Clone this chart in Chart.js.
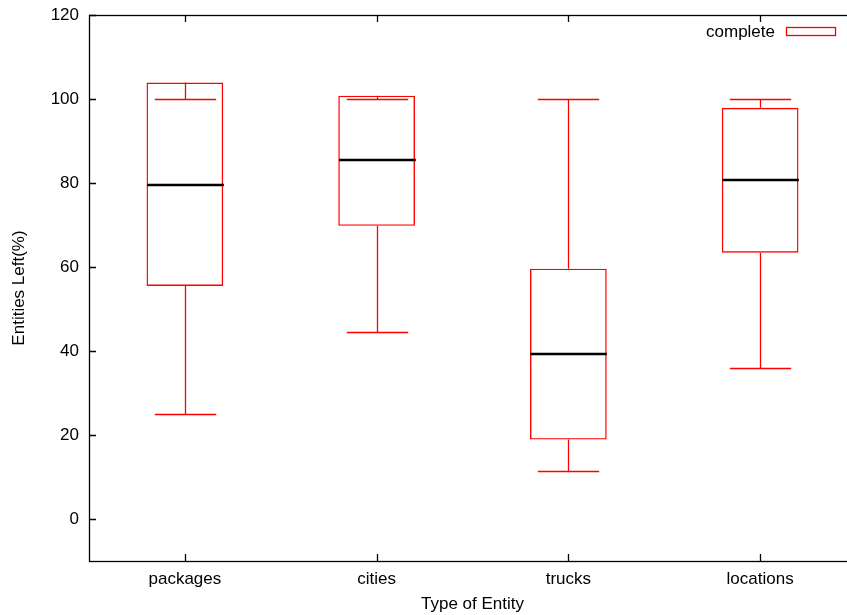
<!DOCTYPE html>
<html>
<head>
<meta charset="utf-8">
<script src="https://cdn.jsdelivr.net/npm/chart.js@4"></script>
<style>
  html, body { margin: 0; padding: 0; background: #fff; overflow: hidden; }
  #wrap { width: 860px; height: 615px; }
</style>
</head>
<body>
<div id="wrap"><canvas id="chart" width="860" height="615"></canvas></div>
<script>
// categorias e valores (box plot estilo gnuplot)
const categories = ['packages', 'cities', 'trucks', 'locations']
const whiskerLow = [25.0, 44.5, 11.5, 36.0]
const boxLow = [55.5, 69.8, 18.9, 63.4]
const median = [79.6, 85.4, 39.3, 80.6]
const boxHigh = [103.9, 100.8, 59.6, 97.9]
const whiskerHigh = [100.0, 100.0, 100.0, 100.0]
const yTicks = [0, 20, 40, 60, 80, 100, 120]

const FONT = '17px "Liberation Sans", Arial, sans-serif'
const RED = '#ff0000'

// desenha bigodes, medianas, moldura, ticks internos e legenda
const boxPlugin = {
  id: 'boxExtras',
  afterDatasetsDraw(chart) {
    const ctx = chart.ctx
    const x = chart.scales.x
    const y = chart.scales.y
    const step = x.getPixelForValue(1) - x.getPixelForValue(0)
    const capHalf = step * 0.16
    const boxHalf = step * 0.2
    ctx.save()
    categories.forEach((c, i) => {
      const cx = Math.round(x.getPixelForValue(i)) + 0.5
      ctx.strokeStyle = RED
      ctx.lineWidth = 1.3
      ctx.beginPath()
      // bigode superior
      ctx.moveTo(cx, y.getPixelForValue(boxHigh[i]))
      ctx.lineTo(cx, y.getPixelForValue(whiskerHigh[i]))
      ctx.moveTo(cx - capHalf, Math.round(y.getPixelForValue(whiskerHigh[i])) + 0.5)
      ctx.lineTo(cx + capHalf, Math.round(y.getPixelForValue(whiskerHigh[i])) + 0.5)
      // bigode inferior
      ctx.moveTo(cx, y.getPixelForValue(boxLow[i]))
      ctx.lineTo(cx, y.getPixelForValue(whiskerLow[i]))
      ctx.moveTo(cx - capHalf, Math.round(y.getPixelForValue(whiskerLow[i])) + 0.5)
      ctx.lineTo(cx + capHalf, Math.round(y.getPixelForValue(whiskerLow[i])) + 0.5)
      ctx.stroke()
      // mediana
      ctx.strokeStyle = '#000'
      ctx.lineWidth = 2.5
      ctx.beginPath()
      const my = Math.round(y.getPixelForValue(median[i]))
      ctx.moveTo(cx - boxHalf, my)
      ctx.lineTo(cx + boxHalf, my)
      ctx.stroke()
    })
    ctx.restore()
  },
  afterDraw(chart) {
    const ctx = chart.ctx
    const a = chart.chartArea
    const x = chart.scales.x
    const y = chart.scales.y
    ctx.save()
    ctx.strokeStyle = '#000'
    ctx.lineWidth = 1.3
    ctx.strokeRect(Math.round(a.left) + 0.5, Math.round(a.top) + 0.5, Math.round(a.right - a.left), Math.round(a.bottom - a.top))
    ctx.beginPath()
    yTicks.forEach(v => {
      const py = Math.round(y.getPixelForValue(v)) + 0.5
      ctx.moveTo(a.left, py)
      ctx.lineTo(a.left + 7, py)
      ctx.moveTo(a.right, py)
      ctx.lineTo(a.right - 7, py)
    })
    categories.forEach((c, i) => {
      const px = Math.round(x.getPixelForValue(i)) + 0.5
      ctx.moveTo(px, a.bottom)
      ctx.lineTo(px, a.bottom - 7)
      ctx.moveTo(px, a.top)
      ctx.lineTo(px, a.top + 7)
    })
    ctx.stroke()

    // títulos dos eixos
    ctx.fillStyle = '#000'
    ctx.font = FONT
    ctx.textAlign = 'center'
    ctx.textBaseline = 'middle'
    ctx.fillText('Type of Entity', (a.left + a.right) / 2, 604)
    ctx.save()
    ctx.translate(19, (a.top + a.bottom) / 2)
    ctx.rotate(-Math.PI / 2)
    ctx.fillText('Entities Left(%)', 0, 0)
    ctx.restore()

    // legenda
    ctx.textAlign = 'right'
    ctx.fillText('complete', 775, 32)
    ctx.strokeStyle = RED
    ctx.lineWidth = 1.3
    ctx.strokeRect(786.5, 27.5, 49, 8)
    ctx.restore()
  }
}

new Chart(document.getElementById('chart'), {
  type: 'bar',
  data: {
    labels: categories,
    datasets: [{
      label: 'complete',
      data: boxLow.map((v, i) => [v, boxHigh[i]]),
      backgroundColor: 'rgba(0,0,0,0)',
      borderColor: RED,
      borderWidth: 1.4,
      borderSkipped: false,
      barPercentage: 0.4,
      categoryPercentage: 1
    }]
  },
  options: {
    responsive: false,
    devicePixelRatio: 1,
    animation: false,
    layout: { padding: { left: 0, top: 15, right: 4, bottom: 0 } },
    plugins: {
      legend: { display: false },
      tooltip: { enabled: false }
    },
    scales: {
      x: {
        offset: true,
        grid: { display: false },
        border: { display: false },
        ticks: { color: '#000', font: { family: '"Liberation Sans", Arial, sans-serif', size: 17 }, padding: 0, maxRotation: 0 },
        afterFit(s) { s.height = 54; s.paddingLeft = 0; s.paddingRight = 0 }
      },
      y: {
        min: -10,
        max: 120,
        afterBuildTicks(s) { s.ticks = yTicks.map(v => ({ value: v })) },
        grid: { display: false },
        border: { display: false },
        ticks: { color: '#000', font: { family: '"Liberation Sans", Arial, sans-serif', size: 17 }, padding: 2 },
        afterFit(s) { s.width = 89; s.paddingTop = 0; s.paddingBottom = 0 }
      }
    }
  },
  plugins: [boxPlugin]
})
</script>
</body>
</html>
